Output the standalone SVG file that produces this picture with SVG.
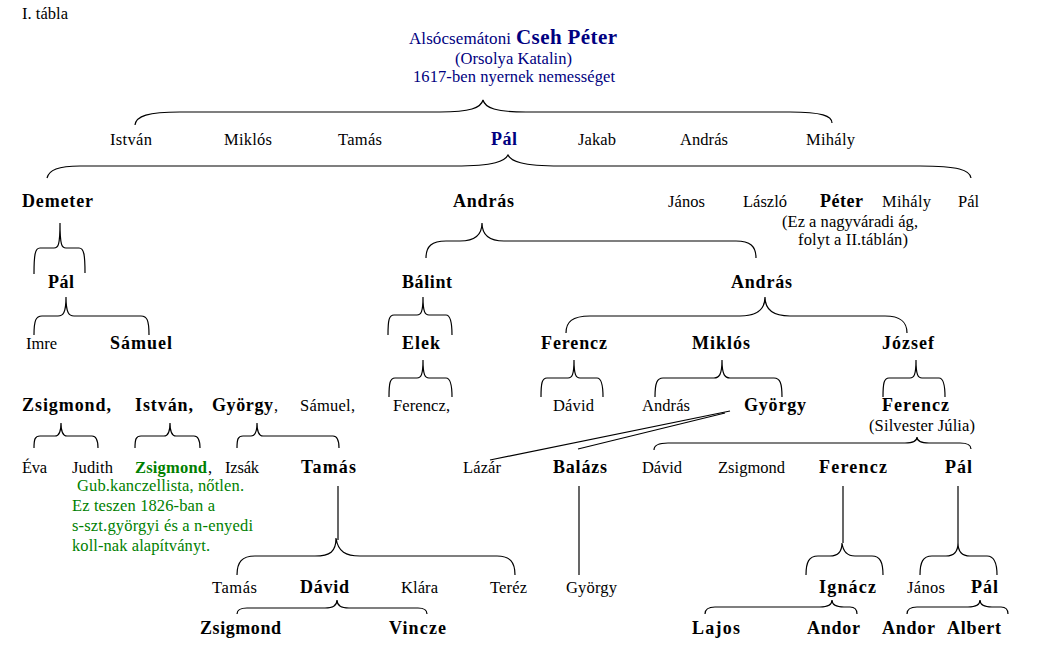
<svg xmlns="http://www.w3.org/2000/svg" width="1040" height="660" viewBox="0 0 1040 660">
<style>
text{font-family:"Liberation Serif","Times New Roman",serif;fill:#000}
.r{font-size:16.5px}
.b{font-size:18px;font-weight:bold}
.n{fill:#000080}
.g{fill:#008000}
.c path{fill:none;stroke:#000;stroke-width:1.2}
</style>
<rect width="1040" height="660" fill="#fff"/>
<g id="connectors" class="c">
<path d="M135,125 C136,116 148,112 180,112 L440,112 C470,112 481,108 483,100 C485,108 496,112 526,112 L790,112 C822,112 832,116 832,123"/>
<path d="M47,178 C49,170 58,166 80,166 L455,166 C495,166 505,161 508,155 C511,161 521,166 560,166 L920,166 C958,166 970,170 971,178"/>
<path d="M34,274 C34,255 35,248 40,248 L54,248 C58,248 60,246 60,223 C60,246 62,248 66,248 L79,248 C84,248 85,255 85,273"/>
<path d="M34,335 C34,320 36,316 42,316 L58,316 C63,316 66,313 66,297 C66,313 69,316 74,316 L141,316 C147,316 149,320 149,335"/>
<path d="M426,258 C426,246 432,241 446,241 L460,241 C474,241 482,236 482,223 C482,236 490,241 504,241 L736,241 C750,241 756,246 756,258"/>
<path d="M388,335 C388,320 389,315 394,315 L417,315 C421,315 423,312 423,297 C423,312 425,315 429,315 L446,315 C450,315 452,320 452,335"/>
<path d="M566,333 C566,322 572,316 590,316 L740,316 C757,316 765,309 765,297 C765,309 773,316 790,316 L885,316 C901,316 907,322 907,333"/>
<path d="M389,397 C389,383 390,378 395,378 L417,378 C421,378 423,375 423,360 C423,375 425,378 429,378 L446,378 C450,378 452,383 452,397"/>
<path d="M541,397 C541,383 542,378 547,378 L568,378 C572,378 574,375 574,360 C574,375 576,378 580,378 L597,378 C601,378 603,383 603,397"/>
<path d="M655,397 C655,383 657,378 663,378 L714,378 C719,378 722,375 722,360 C722,375 725,378 730,378 L774,378 C780,378 782,383 782,397"/>
<path d="M883,397 C883,383 884,378 889,378 L910,378 C914,378 916,375 916,360 C916,375 918,378 922,378 L939,378 C943,378 945,383 945,397"/>
<path d="M34,448 C34,439 35,436 40,436 L55,436 C59,436 61,433 61,423 C61,433 63,436 67,436 L92,436 C96,436 98,439 98,448"/>
<path d="M135,448 C135,439 136,436 141,436 L164,436 C168,436 170,433 170,423 C170,433 172,436 176,436 L194,436 C198,436 200,439 200,448"/>
<path d="M237,448 C237,439 238,436 243,436 L251,436 C255,436 257,433 257,423 C257,433 259,436 263,436 L333,436 C337,436 339,439 339,448"/>
<path d="M654,450 C654,446 658,443 668,443 L905,443 C912,443 917,441 917,437 C917,441 922,443 929,443 L960,443 C967,443 971,445 971,449"/>
<path d="M730,411 L490,460"/>
<path d="M578,449 L725,413"/>
<path d="M338,486 L338,540"/>
<path d="M237,575 C237,562 242,556 255,556 L315,556 C330,556 336,552 336,538 C338,552 346,556 360,556 L497,556 C510,556 515,562 515,575"/>
<path d="M579,486 L579,575"/>
<path d="M843,486 L843,543"/>
<path d="M806,575 C806,562 809,556 818,556 L830,556 C838,556 842,551 842,543 C843,551 847,556 855,556 L872,556 C880,556 883,562 883,575"/>
<path d="M958,486 L958,543"/>
<path d="M920,575 C920,562 923,556 932,556 L946,556 C954,556 958,551 958,543 C958,551 962,556 970,556 L987,556 C994,556 997,562 997,575"/>
<path d="M237,614 C237,610 240,608 247,608 L325,608 C333,608 337,605 337,600 C337,605 341,608 349,608 L418,608 C424,608 427,610 427,614"/>
<path d="M705,614 C705,610 708,607 715,607 L820,607 C828,607 832,604 832,600 C832,604 836,607 844,607 L850,607 C855,607 857,610 857,614"/>
<path d="M907,614 C907,610 910,607 917,607 L968,607 C976,607 980,604 980,600 C980,604 984,607 992,607 L1001,607 C1006,607 1008,610 1008,614"/>
</g>
<g id="title"><text class="r" x="22" y="19" textLength="46">I. tábla</text></g>
<g id="n-cseh-peter">
<text class="r n" x="409" y="44" style="font-size:17px" textLength="102">Alsócsemátoni</text>
<text class="b n" x="516" y="44" style="font-size:21px" textLength="101">Cseh Péter</text>
<text class="r n" x="455" y="64" textLength="117">(Orsolya Katalin)</text>
<text class="r n" x="413" y="82" textLength="202">1617-ben nyernek nemességet</text>
</g>
<g id="n-r2-istvan"><text class="r" x="110" y="145" textLength="42">István</text></g>
<g id="n-r2-miklos"><text class="r" x="224" y="145" textLength="48">Miklós</text></g>
<g id="n-r2-tamas"><text class="r" x="338" y="145" textLength="44">Tamás</text></g>
<g id="n-r2-pal"><text class="b n" x="491" y="145" textLength="26">Pál</text></g>
<g id="n-r2-jakab"><text class="r" x="578" y="145" textLength="38">Jakab</text></g>
<g id="n-r2-andras"><text class="r" x="680" y="145" textLength="48">András</text></g>
<g id="n-r2-mihaly"><text class="r" x="806" y="145" textLength="49">Mihály</text></g>
<g id="n-r3-demeter"><text class="b" x="22" y="207" textLength="71">Demeter</text></g>
<g id="n-r3-andras"><text class="b" x="453" y="207" textLength="61">András</text></g>
<g id="n-r3-janos"><text class="r" x="668" y="207" textLength="37">János</text></g>
<g id="n-r3-laszlo"><text class="r" x="743" y="207" textLength="44">László</text></g>
<g id="n-r3-peter">
<text class="b" x="820" y="207" textLength="43">Péter</text>
<text class="r" x="782" y="227" textLength="136">(Ez a nagyváradi ág,</text>
<text class="r" x="798" y="245" textLength="110">folyt a II.táblán)</text>
</g>
<g id="n-r3-mihaly"><text class="r" x="882" y="207" textLength="49">Mihály</text></g>
<g id="n-r3-pal"><text class="r" x="958" y="207" textLength="21">Pál</text></g>
<g id="n-r4-pal"><text class="b" x="48" y="288" textLength="26">Pál</text></g>
<g id="n-r4-balint"><text class="b" x="402" y="288" textLength="50">Bálint</text></g>
<g id="n-r4-andras"><text class="b" x="731" y="288" textLength="61">András</text></g>
<g id="n-r5-imre"><text class="r" x="26" y="349" textLength="31">Imre</text></g>
<g id="n-r5-samuel"><text class="b" x="110" y="349" textLength="62">Sámuel</text></g>
<g id="n-r5-elek"><text class="b" x="402" y="349" textLength="38">Elek</text></g>
<g id="n-r5-ferencz"><text class="b" x="541" y="349" textLength="66">Ferencz</text></g>
<g id="n-r5-miklos"><text class="b" x="692" y="349" textLength="58">Miklós</text></g>
<g id="n-r5-jozsef"><text class="b" x="882" y="349" textLength="52">József</text></g>
<g id="n-r6-zsigmond"><text class="b" x="22" y="411" textLength="89">Zsigmond,</text></g>
<g id="n-r6-istvan"><text class="b" x="135" y="411" textLength="58">István,</text></g>
<g id="n-r6-gyorgy"><text class="b" x="212" y="411" textLength="61">György</text><text class="r" x="274" y="411">,</text></g>
<g id="n-r6-samuel"><text class="r" x="300" y="411" textLength="55">Sámuel,</text></g>
<g id="n-r6-ferencz"><text class="r" x="393" y="411" textLength="57">Ferencz,</text></g>
<g id="n-r6-david"><text class="r" x="553" y="411" textLength="41">Dávid</text></g>
<g id="n-r6-andras"><text class="r" x="642" y="411" textLength="48">András</text></g>
<g id="n-r6-gyorgy2"><text class="b" x="744" y="411" textLength="62">György</text></g>
<g id="n-r6-ferencz2">
<text class="b" x="882" y="411" textLength="67">Ferencz</text>
<text class="r" x="869" y="431" textLength="106">(Silvester Júlia)</text>
</g>
<g id="n-r7-eva"><text class="r" x="22" y="473" textLength="25">Éva</text></g>
<g id="n-r7-judith"><text class="r" x="72" y="473" textLength="41">Judith</text></g>
<g id="n-r7-zsigmond">
<text class="b g" x="135" y="473" style="font-size:16.5px" textLength="72">Zsigmond</text><text class="r" x="208" y="473">,</text>
<text class="r g" x="77" y="491" textLength="167">Gub.kanczellista, nőtlen.</text>
<text class="r g" x="72" y="511" textLength="143">Ez teszen 1826-ban a</text>
<text class="r g" x="72" y="531" textLength="181">s-szt.györgyi és a n-enyedi</text>
<text class="r g" x="72" y="551" textLength="138">koll-nak alapítványt.</text>
</g>
<g id="n-r7-izsak"><text class="r" x="225" y="473" textLength="34">Izsák</text></g>
<g id="n-r7-tamas"><text class="b" x="301" y="473" textLength="55">Tamás</text></g>
<g id="n-r7-lazar"><text class="r" x="463" y="473" textLength="38">Lázár</text></g>
<g id="n-r7-balazs"><text class="b" x="553" y="473" textLength="54">Balázs</text></g>
<g id="n-r7-david"><text class="r" x="642" y="473" textLength="40">Dávid</text></g>
<g id="n-r7-zsigmond2"><text class="r" x="718" y="473" textLength="67">Zsigmond</text></g>
<g id="n-r7-ferencz"><text class="b" x="819" y="473" textLength="68">Ferencz</text></g>
<g id="n-r7-pal"><text class="b" x="945" y="473" textLength="27">Pál</text></g>
<g id="n-r8-tamas"><text class="r" x="212" y="593" textLength="45">Tamás</text></g>
<g id="n-r8-david"><text class="b" x="300" y="593" textLength="49">Dávid</text></g>
<g id="n-r8-klara"><text class="r" x="401" y="593" textLength="37">Klára</text></g>
<g id="n-r8-terez"><text class="r" x="490" y="593" textLength="37">Teréz</text></g>
<g id="n-r8-gyorgy"><text class="r" x="566" y="593" textLength="51">György</text></g>
<g id="n-r8-ignacz"><text class="b" x="819" y="593" textLength="57">Ignácz</text></g>
<g id="n-r8-janos"><text class="r" x="907" y="593" textLength="38">János</text></g>
<g id="n-r8-pal"><text class="b" x="971" y="593" textLength="27">Pál</text></g>
<g id="n-r9-zsigmond"><text class="b" x="200" y="634" textLength="81">Zsigmond</text></g>
<g id="n-r9-vincze"><text class="b" x="389" y="634" textLength="57">Vincze</text></g>
<g id="n-r9-lajos"><text class="b" x="692" y="634" textLength="48">Lajos</text></g>
<g id="n-r9-andor"><text class="b" x="807" y="634" textLength="53">Andor</text></g>
<g id="n-r9-andor2"><text class="b" x="882" y="634" textLength="53">Andor</text></g>
<g id="n-r9-albert"><text class="b" x="947" y="634" textLength="54">Albert</text></g>
</svg>
